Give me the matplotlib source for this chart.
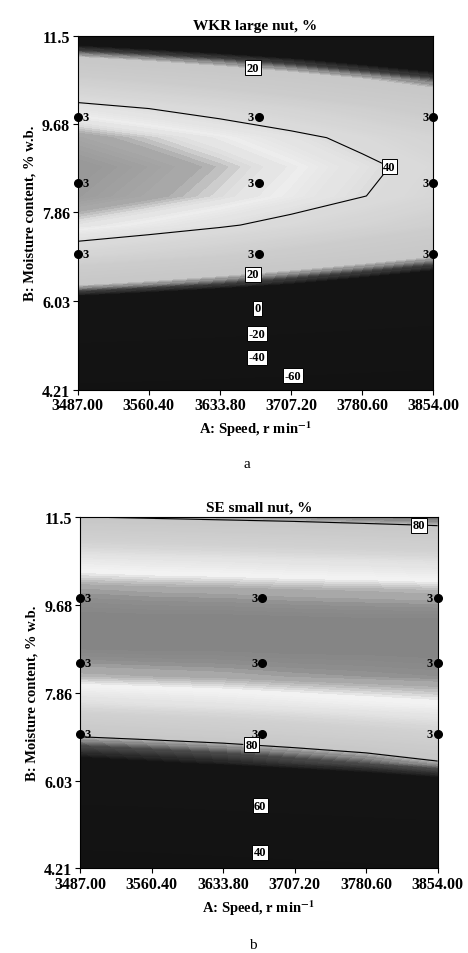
import numpy as np
import matplotlib.pyplot as plt
from matplotlib.colors import LinearSegmentedColormap

plt.rcParams['font.family'] = ['Liberation Serif', 'DejaVu Serif']
plt.rcParams['font.weight'] = 'bold'
plt.rcParams['axes.titleweight'] = 'bold'
plt.rcParams['axes.labelweight'] = 'bold'
plt.rcParams['mathtext.fontset'] = 'stix'

# grid (rows = moisture, cols = speed)
speed = [3487.0, 3560.4, 3633.8, 3707.2, 3780.6, 3854.0]
moisture = [4.21, 5.0, 5.8, 6.4, 7.0, 7.6, 8.2, 8.8, 9.4, 10.0, 10.6, 11.0, 11.5]

wkr_large = [
    [-66.3, -68.5, -70.9, -73.7, -76.9, -80.3],
    [-27.9, -30.1, -32.5, -35.3, -38.5, -41.9],
    [3.3, 1.1, -1.3, -4.1, -7.3, -10.7],
    [21.6, 19.4, 17.0, 14.2, 11.0, 7.6],
    [35.7, 33.5, 31.1, 28.3, 25.1, 21.7],
    [45.4, 43.2, 40.8, 38.0, 34.8, 31.4],
    [50.8, 48.6, 46.2, 43.4, 40.2, 36.8],
    [51.9, 49.7, 47.3, 44.5, 41.3, 37.9],
    [49.0, 46.8, 44.4, 41.6, 38.4, 35.0],
    [42.2, 40.0, 37.6, 34.8, 31.6, 28.2],
    [31.5, 29.3, 26.9, 24.1, 20.9, 17.5],
    [22.2, 20.0, 17.6, 14.8, 11.6, 8.2],
    [8.2, 6.0, 3.6, 0.8, -2.4, -5.8],
]

se_small = [
    [30.0, 31.0, 32.5, 34.0, 35.5, 37.0],
    [46.0, 47.0, 48.5, 50.0, 51.5, 53.0],
    [63.0, 64.0, 65.5, 67.0, 68.5, 70.0],
    [73.5, 74.5, 75.5, 76.8, 78.0, 79.7],
    [80.7, 81.4, 82.1, 82.9, 83.8, 84.6],
    [86.1, 86.6, 87.0, 87.5, 88.0, 88.4],
    [89.8, 90.0, 90.2, 90.5, 90.7, 90.9],
    [91.7, 91.8, 91.8, 91.9, 91.9, 92.0],
    [91.9, 91.8, 91.8, 91.7, 91.6, 91.6],
    [90.5, 90.3, 90.2, 90.0, 89.9, 89.7],
    [87.6, 87.3, 87.1, 86.8, 86.6, 86.3],
    [84.8, 84.5, 84.2, 83.9, 83.5, 83.2],
    [80.1, 79.8, 79.5, 79.2, 78.8, 78.3],
]

# design points (each run replicated 3 times)
design_speed = [3487, 3487, 3487, 3674, 3674, 3674, 3854, 3854, 3854]
design_moist = [7.0, 8.47, 9.83, 7.0, 8.47, 9.83, 7.0, 8.47, 9.83]
design_reps = ['3'] * 9

xticks = [3487.0, 3560.4, 3633.8, 3707.2, 3780.6, 3854.0]
yticks = [4.21, 6.03, 7.86, 9.68, 11.5]


def gray_map(vals, grays):
    vmin, vmax = vals[0], vals[-1]
    pos = [(v - vmin) / (vmax - vmin) for v in vals]
    cm = LinearSegmentedColormap.from_list('g', list(zip(pos, [(g, g, g) for g in grays])))
    return cm, vmin, vmax


def panel(ax, z, cvals, cgrays, lines, widths, label_pos, title):
    cm, vmin, vmax = gray_map(cvals, cgrays)
    z = np.array(z)
    ax.contourf(speed, moisture, z, levels=np.linspace(vmin, vmax, 300), cmap=cm)
    cs = ax.contour(speed, moisture, z, levels=lines, colors='black', linewidths=widths)
    labels = ax.clabel(cs, fmt='%d', fontsize=9, manual=label_pos, inline=True, inline_spacing=2)
    for t in labels:
        t.set_rotation(0)
        t.set_bbox(dict(boxstyle='square,pad=0.12', fc='white', ec='black', lw=0.7))

    ax.plot(design_speed, design_moist, 'o', color='black', ms=5.5, clip_on=False, zorder=5)
    for xs, ys, r in zip(design_speed, design_moist, design_reps):
        if xs == speed[0]:
            ax.annotate(r, (xs, ys), xytext=(3.5, 0), textcoords='offset points',
                        ha='left', va='center', fontsize=9)
        else:
            ax.annotate(r, (xs, ys), xytext=(-3.5, 0), textcoords='offset points',
                        ha='right', va='center', fontsize=9)

    ax.set_xlim(3487, 3854)
    ax.set_ylim(4.21, 11.5)
    ax.set_xticks(xticks)
    ax.set_xticklabels(['%.2f' % v for v in xticks])
    ax.set_yticks(yticks)
    ax.set_yticklabels(['%.2f' % v if v < 11 else '11.5' for v in yticks])
    ax.tick_params(direction='out', length=3.5, width=0.8, labelsize=11.5, pad=2)
    ax.set_title(title, fontsize=11, pad=5)
    ax.set_xlabel('A: Speed, r min$^{-1}$', fontsize=10.5, labelpad=4)
    ax.set_ylabel('B: Moisture content, % w.b.', fontsize=10.5, labelpad=4)


fig = plt.figure(figsize=(4.68, 9.54), dpi=100)

ax1 = fig.add_axes([0.166, 0.5905, 0.760, 0.371])
panel(ax1, wkr_large,
      [-85, 14, 17, 21, 30, 40, 44.5, 46.5, 48.5, 53],
      [0.07, 0.08, 0.25, 0.78, 0.80, 0.86, 0.93, 0.86, 0.66, 0.58],
      [-60, -40, -20, 0, 20, 40],
      [0, 0, 0, 0, 0, 0.8],
      [(3668, 10.88), (3815, 8.8), (3668, 6.62), (3672, 5.95), (3672, 5.38), (3672, 4.87), (3709, 4.48)],
      'WKR large nut, %')

ax2 = fig.add_axes([0.171, 0.0888, 0.764, 0.3679])
panel(ax2, se_small,
      [25, 75, 78, 80.5, 85, 88.8, 90, 91, 92.5],
      [0.07, 0.08, 0.30, 0.78, 0.82, 0.95, 0.72, 0.56, 0.50],
      [40, 60, 80],
      [0, 0, 0.8],
      [(3835, 11.33), (3663, 6.76), (3672, 5.5), (3672, 4.55)],
      'SE small nut, %')

fig.text(0.528, 1 - 465 / 954, 'a', ha='center', va='center', fontsize=11, weight='normal')
fig.text(0.54, 0.009, 'b', ha='center', va='center', fontsize=11, weight='normal')

fig.savefig('out.png', dpi=100)
